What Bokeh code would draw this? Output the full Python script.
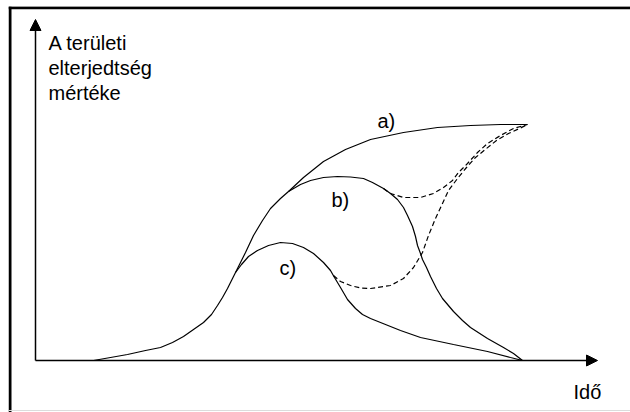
from bokeh.plotting import figure
from bokeh.models import Range1d, Arrow, NormalHead, Label, Span
from bokeh.embed import file_html
from bokeh.resources import INLINE

# ---- data (time, territorial extent) ----
main_t = [11.6, 15.0, 18.4, 22.0, 25.0, 27.4, 29.6, 31.6, 33.6, 35.2, 36.4, 37.4, 38.4, 39.2,
          40.0, 41.0, 42.0, 43.6, 45.4, 47.0, 49.0, 50.6, 53.6, 57.6, 62.0, 67.0, 73.6,
          80.4, 87.0, 93.0, 98.4]
main_y = [0.0, 1.2, 2.4, 4.0, 5.2, 7.2, 9.6, 12.4, 15.2, 18.4, 22.0, 25.2, 28.8, 32.0,
          35.2, 39.2, 43.2, 50.0, 56.0, 60.8, 64.8, 67.6, 73.2, 79.6, 84.4, 88.4, 91.2,
          93.2, 94.0, 94.4, 94.4]

b_t = [50.6, 53.0, 55.0, 57.6, 60.4, 63.0, 65.6, 67.4, 69.6, 71.0, 72.4, 73.6, 74.4, 75.4,
       76.0, 76.4, 77.0, 77.4, 78.2, 79.0, 80.2, 81.4, 83.6, 85.4, 87.0, 90.4, 93.6, 95.6, 97.4]
b_y = [67.6, 70.4, 72.0, 73.2, 73.6, 73.4, 72.8, 71.2, 68.8, 66.8, 64.4, 61.2, 58.0, 53.6,
       49.6, 46.0, 42.8, 40.4, 37.2, 33.6, 28.8, 24.8, 19.6, 16.0, 13.2, 8.8, 5.2, 2.8, 0.0]

c_t = [40.0, 41.2, 42.6, 44.4, 46.6, 49.0, 51.4, 53.6, 55.6, 57.6, 59.0, 59.8, 61.0, 62.4,
       64.0, 65.4, 67.0, 70.0, 73.0, 77.0, 83.6, 90.4, 95.0, 97.4]
c_y = [35.2, 38.4, 41.6, 44.0, 46.0, 47.2, 46.8, 45.2, 42.8, 39.2, 36.0, 33.2, 29.2, 24.4,
       20.8, 18.4, 16.8, 14.4, 12.0, 9.2, 6.4, 3.6, 1.2, 0.0]

bd_t = [69.6, 71.0, 73.6, 77.0, 79.6, 81.6, 83.4, 84.6, 86.4, 88.4, 90.4, 93.0, 95.6, 98.4]
bd_y = [68.8, 66.8, 65.2, 65.2, 66.8, 69.2, 72.0, 75.2, 78.8, 83.2, 86.8, 90.0, 92.8, 94.4]

cd_t = [59.6, 61.0, 63.0, 65.0, 67.0, 71.0, 73.6, 75.6, 77.4, 78.6, 80.0, 81.4, 82.6, 84.4,
        86.2, 88.0, 90.2, 92.2, 94.6, 96.8, 98.4]
cd_y = [34.0, 31.6, 30.0, 29.0, 28.8, 30.0, 32.8, 37.2, 43.2, 50.0, 56.8, 62.8, 68.0, 72.8,
        77.2, 81.2, 84.8, 88.0, 90.8, 92.8, 94.4]

curve_names = ["a)", "b)", "c)"]
y_title = ["A területi", "elterjedtség", "mértéke"]
x_title = "Idő"

FONT = "Liberation Sans"

p = figure(width=630, height=412, output_backend="svg", toolbar_location=None,
           x_axis_type=None, y_axis_type=None,
           x_range=Range1d(-5.4, 119.0), y_range=Range1d(-20.8, 141.6),
           min_border_left=8, min_border_top=6, min_border_right=0, min_border_bottom=0)
p.border_fill_color = "white"
p.background_fill_color = "white"
p.outline_line_color = None
p.grid.visible = False

# picture frame (left and top edges, faint bottom edge)
p.add_layout(Span(location=-5.1, dimension="height", line_color="black", line_width=3))
p.add_layout(Span(location=141.1, dimension="width", line_color="black", line_width=3))
p.add_layout(Span(location=-20.0, dimension="width", line_color="#dcdcdc", line_width=1))

# axes with arrow heads
p.add_layout(Arrow(x_start=0, y_start=0, x_end=0, y_end=136.4,
                   line_color="black", line_width=1.5,
                   end=NormalHead(size=11, fill_color="black", line_color="black")))
p.add_layout(Arrow(x_start=0, y_start=0, x_end=112.4, y_end=0,
                   line_color="black", line_width=1.5,
                   end=NormalHead(size=11, fill_color="black", line_color="black")))

# curves
p.line(main_t, main_y, line_color="black", line_width=1.2)
p.line(b_t, b_y, line_color="black", line_width=1.2)
p.line(c_t, c_y, line_color="black", line_width=1.2)
p.line(bd_t, bd_y, line_color="black", line_width=1.2, line_dash="5 3")
p.line(cd_t, cd_y, line_color="black", line_width=1.2, line_dash="5 3")

# curve labels
for name, (lx, ly) in zip(curve_names, [(68.4, 96.0), (59.2, 64.4), (48.8, 37.2)]):
    p.add_layout(Label(x=lx, y=ly, text=name, text_font=FONT, text_font_size="20px",
                       text_align="left", text_baseline="alphabetic", text_color="black"))

# axis titles
for i, line in enumerate(y_title):
    p.add_layout(Label(x=2.6, y=127.2 - 10 * i, text=line, text_font=FONT,
                       text_font_size="20px", text_align="left",
                       text_baseline="alphabetic", text_color="black"))
p.add_layout(Label(x=107.6, y=-12.4, text=x_title, text_font=FONT, text_font_size="20px",
                   text_align="left", text_baseline="alphabetic", text_color="black"))

open("out.html", "w").write(file_html(p, INLINE))
